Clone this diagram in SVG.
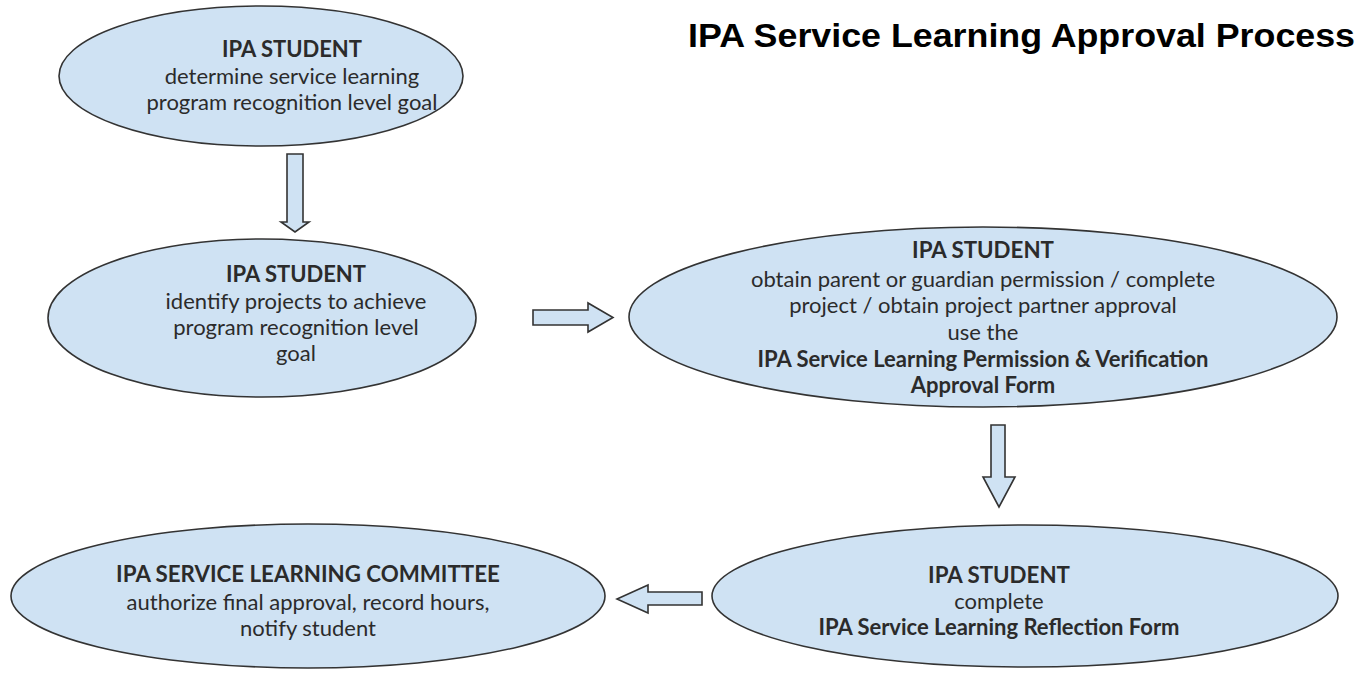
<svg xmlns="http://www.w3.org/2000/svg" width="1369" height="675" viewBox="0 0 1369 675">
<style>
.node{fill:#cfe2f3;stroke:#333;stroke-width:1.6}
.arr{fill:#cfe2f3;stroke:#333;stroke-width:1.6;stroke-linejoin:miter}
text{font-family:Lato,"Open Sans","Liberation Sans",sans-serif;fill:#2b2b2b;text-anchor:middle;font-size:22px}
.b{font-weight:bold}
.h{font-weight:bold;font-size:22.3px}
.title{font-family:"Liberation Sans",Arial,sans-serif;font-weight:bold;font-size:34px;fill:#000;text-anchor:start}
</style>
<rect width="1369" height="675" fill="#fff"/>
<text class="title" x="688" y="47" textLength="667" lengthAdjust="spacingAndGlyphs">IPA Service Learning Approval Process</text>
<g id="n1">
<ellipse class="node" cx="261" cy="76" rx="202" ry="70"/>
<text class="b" x="292" y="57">IPA STUDENT</text>
<text x="292" y="84">determine service learning</text>
<text x="292" y="110">program recognition level goal</text>
</g>
<g id="n2">
<ellipse class="node" cx="262" cy="318" rx="214" ry="79"/>
<text class="b" x="296" y="282">IPA STUDENT</text>
<text x="296" y="309">identify projects to achieve</text>
<text x="296" y="335">program recognition level</text>
<text x="296" y="361">goal</text>
</g>
<g id="n3">
<ellipse class="node" cx="983" cy="317" rx="354" ry="90"/>
<text class="h" x="983" y="258">IPA STUDENT</text>
<text x="983" y="287">obtain parent or guardian permission / complete</text>
<text x="983" y="313">project / obtain project partner approval</text>
<text x="983" y="340">use the</text>
<text class="b" x="983" y="367">IPA Service Learning Permission &amp; Verification</text>
<text class="b" x="983" y="393">Approval Form</text>
</g>
<g id="n4">
<ellipse class="node" cx="1025" cy="596" rx="313" ry="71"/>
<text class="h" x="999" y="583">IPA STUDENT</text>
<text x="999" y="609">complete</text>
<text class="b" x="999" y="635">IPA Service Learning Reflection Form</text>
</g>
<g id="n5">
<ellipse class="node" cx="308" cy="596" rx="297" ry="72"/>
<text class="h" x="308" y="582">IPA SERVICE LEARNING COMMITTEE</text>
<text x="308" y="610">authorize final approval, record hours,</text>
<text x="308" y="636">notify student</text>
</g>
<g id="connectors">
<path class="arr" d="M287,154 H303 V222 H309 L295,232 L281,222 H287 Z"/>
<path class="arr" d="M533,310 H588 V303 L613,317.5 L588,332 V325 H533 Z"/>
<path class="arr" d="M991,425 H1005 V477 H1015 L999,507 L983,477 H991 Z"/>
<path class="arr" d="M702,592 H648 V585 L617,599 L648,613 V605 H702 Z"/>
</g>
</svg>
